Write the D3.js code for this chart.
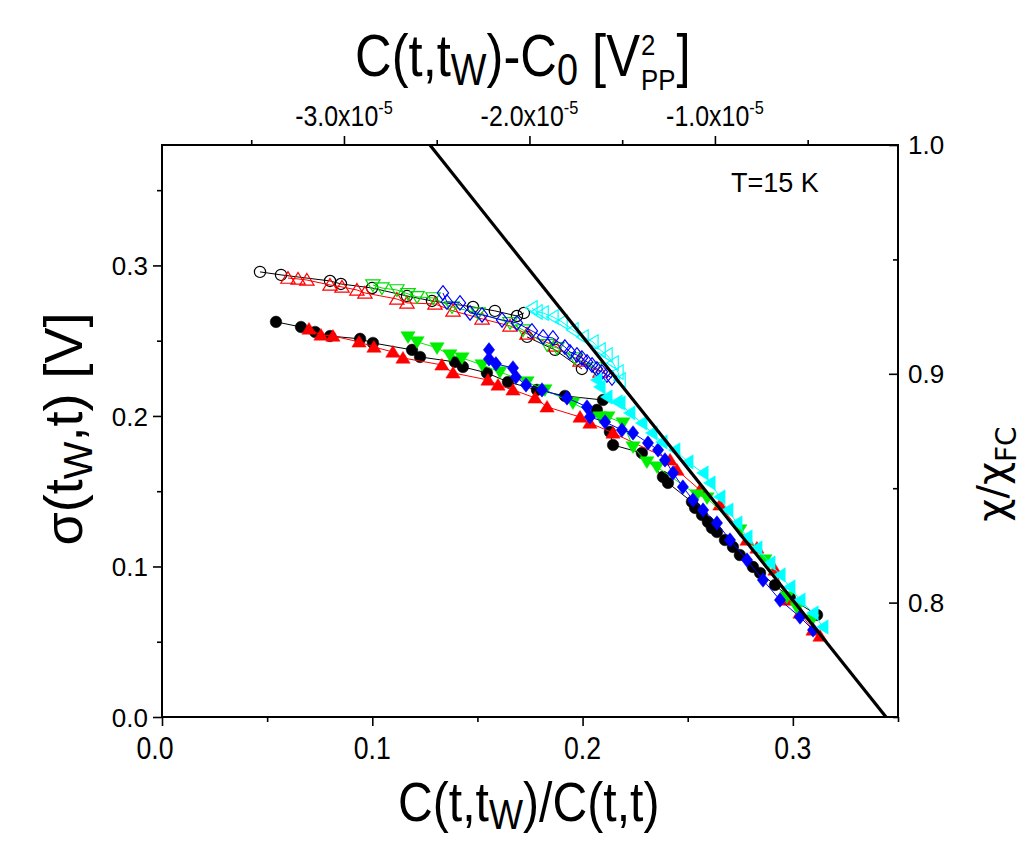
<!DOCTYPE html>
<html>
<head>
<meta charset="utf-8">
<script src="https://cdn.jsdelivr.net/npm/d3@7"></script>
<style>
  body { margin: 0; background: #fff; }
  svg text { font-family: "Liberation Sans", Arial, sans-serif; fill: #000; }
</style>
</head>
<body>
<div id="chart"></div>
<script>
// axis ticks
var xTicks = [0.0, 0.1, 0.2, 0.3];
var xMinor = [0.05, 0.15, 0.25, 0.35];
var yTicks = [0.0, 0.1, 0.2, 0.3];
var yMinor = [0.05, 0.15, 0.25, 0.35];
var topTicks = [-3.0, -2.0, -1.0];          // x 1e-5
var topMinor = [-3.5, -2.5, -1.5, -0.5];
var rightTicks = [0.8, 0.9, 1.0];
var rightMinor = [0.75, 0.85, 0.95];

// FDT line (x, y)
var fdtLine = [[0.1274, 0.38], [0.3443, 0.0]];

// upper branch (open symbols)
var blackOpen = [[0.0466,0.2957],[0.0566,0.2937],[0.0799,0.2897],[0.0851,0.2877],[0.0999,0.2850],
  [0.1165,0.2797],[0.1284,0.2764],[0.1479,0.2724],[0.1583,0.2698],[0.1688,0.2664],[0.1721,0.2684]];
var blackOpen2 = [[0.1736,0.2525],[0.1869,0.2439],[0.1997,0.2312]];
var redOpen = [[0.0599,0.2916],[0.0647,0.2910],[0.0689,0.2903],[0.0799,0.2870],[0.0856,0.2857],
  [0.0927,0.2837],[0.0965,0.2817],[0.1117,0.2777],[0.1165,0.2751],[0.1298,0.2744],[0.1384,0.2698],
  [0.1522,0.2645],[0.1655,0.2598],[0.1736,0.2545],[0.1869,0.2465],[0.1988,0.2365],[0.2083,0.2292]];
var greenOpen = [[0.1003,0.2870],[0.1046,0.2850],[0.1117,0.2837],[0.1170,0.2811],[0.1213,0.2791],
  [0.1289,0.2784],[0.1379,0.2724],[0.1503,0.2684],[0.1655,0.2618],[0.1717,0.2571],[0.1831,0.2472],
  [0.1878,0.2452],[0.1964,0.2385],[0.2059,0.2319]];
var blueOpen = [[0.1336,0.2817],[0.1355,0.2757],[0.1417,0.2751],[0.1465,0.2684],[0.1522,0.2671],
  [0.1617,0.2638],[0.1688,0.2618],[0.1759,0.2565],[0.1812,0.2525],[0.1859,0.2518],[0.1916,0.2458],
  [0.1940,0.2425],[0.1973,0.2405],[0.1997,0.2385],[0.2021,0.2359],[0.2045,0.2339],[0.2068,0.2312],
  [0.2092,0.2292],[0.2116,0.2272],[0.2140,0.2252]];
var cyanOpen = [[0.1759,0.2718],[0.1783,0.2691],[0.1812,0.2684],[0.1859,0.2658],[0.1902,0.2625],
  [0.1954,0.2571],[0.2002,0.2525],[0.2049,0.2492],[0.2083,0.2439],[0.2116,0.2405],[0.2145,0.2352],
  [0.2168,0.2292],[0.2178,0.2239]];

// lower branch (filled symbols)
var blackFull = [[0.0542,0.2625],[0.0661,0.2591],[0.0728,0.2558],[0.0799,0.2531],[0.0942,0.2512],
  [0.1003,0.2485],[0.1189,0.2439],[0.1227,0.2392],[0.1393,0.2359],[0.1431,0.2326],[0.1545,0.2286],
  [0.1645,0.2226],[0.1783,0.2173],[0.1916,0.2133],[0.2097,0.2106]];
var blackFull2 = [[0.2068,0.2040],[0.2130,0.1894],[0.2145,0.1807],[0.2282,0.1754],[0.2382,0.1595],
  [0.2406,0.1555],[0.2520,0.1429],[0.2535,0.1389],[0.2568,0.1342],[0.2596,0.1296],[0.2615,0.1256],
  [0.2639,0.1229],[0.2677,0.1176],[0.2715,0.1130],[0.2748,0.1076],[0.2810,0.0997],[0.2844,0.0957],
  [0.2915,0.0877],[0.2986,0.0791],[0.3115,0.0678]];
var redFull = [[0.0699,0.2578],[0.0756,0.2538],[0.0813,0.2531],[0.0937,0.2492],[0.1008,0.2458],
  [0.1098,0.2425],[0.1146,0.2385],[0.1331,0.2339],[0.1384,0.2286],[0.1550,0.2239],[0.1598,0.2206],
  [0.1669,0.2173],[0.1774,0.2120],[0.1831,0.2060],[0.1988,0.1993],[0.2035,0.1953],[0.2145,0.1887],
  [0.2416,0.1708],[0.2449,0.1641],[0.2558,0.1508],[0.2653,0.1409],[0.2782,0.1176],[0.2829,0.1123],
  [0.2915,0.0977],[0.2972,0.0777],[0.3034,0.0691],[0.3096,0.0578],[0.3129,0.0538]];
var greenFull = [[0.1170,0.2525],[0.1213,0.2492],[0.1308,0.2452],[0.1369,0.2405],[0.1427,0.2385],
  [0.1522,0.2339],[0.1607,0.2292],[0.1736,0.2226],[0.1821,0.2173],[0.1954,0.2086],[0.2083,0.1993],
  [0.2121,0.1993],[0.2192,0.1953],[0.2240,0.1794],[0.2306,0.1694],[0.2354,0.1661],[0.2544,0.1475],
  [0.2592,0.1455],[0.2748,0.1243],[0.2867,0.1043],[0.2972,0.0797],[0.3020,0.0724],[0.3091,0.0645]];
var blueFull = [[0.1555,0.2439],[0.1555,0.2379],[0.1588,0.2346],[0.1669,0.2319],[0.1683,0.2259],
  [0.1731,0.2206],[0.1807,0.2173],[0.1926,0.2120],[0.2021,0.2060],[0.2035,0.1993],[0.2107,0.1960],
  [0.2187,0.1907],[0.2240,0.1887],[0.2311,0.1821],[0.2359,0.1774],[0.2392,0.1708],[0.2430,0.1621],
  [0.2477,0.1528],[0.2525,0.1442],[0.2573,0.1375],[0.2639,0.1289],[0.2701,0.1176],[0.2782,0.1043],
  [0.2858,0.0910],[0.2939,0.0777],[0.3034,0.0664],[0.3096,0.0578]];
var cyanFull = [[0.2068,0.2239],[0.2083,0.2193],[0.2116,0.2126],[0.2164,0.2093],[0.2178,0.2086],
  [0.2225,0.2020],[0.2282,0.1953],[0.2330,0.1887],[0.2378,0.1827],[0.2439,0.1774],[0.2501,0.1694],
  [0.2573,0.1621],[0.2606,0.1555],[0.2653,0.1462],[0.2691,0.1375],[0.2734,0.1289],[0.2782,0.1196],
  [0.2829,0.1123],[0.2891,0.1023],[0.2939,0.0944],[0.2986,0.0864],[0.3034,0.0777],[0.3096,0.0691],
  [0.3143,0.0598]];

var W = 1023, H = 841;
var L = 162, R = 898, T = 145, B = 717;
var NARROW = 0.86;   // no narrow font installed, squeeze instead

var x = d3.scaleLinear().domain([0, 0.35]).range([L, R]);
var y = d3.scaleLinear().domain([0, 0.38]).range([B, T]);
var xTop = d3.scaleLinear().domain([-3.981, -0.013]).range([L, R]);
var yRight = d3.scaleLinear().domain([0.75, 1.0]).range([B, T]);

// symbol shapes
var shapes = {
  circle: function (r) { return d3.symbol(d3.symbolCircle, Math.PI * r * r)(); },
  up: function (r) { return "M0," + (-r) + "L" + (r * 1.1) + "," + (r * 0.8) + "L" + (-r * 1.1) + "," + (r * 0.8) + "Z"; },
  down: function (r) { return "M0," + r + "L" + (r * 1.1) + "," + (-r * 0.8) + "L" + (-r * 1.1) + "," + (-r * 0.8) + "Z"; },
  left: function (r) { return "M" + (-r) + ",0L" + (r * 0.8) + "," + (-r * 1.1) + "L" + (r * 0.8) + "," + (r * 1.1) + "Z"; },
  diamond: function (r) { return "M0," + (-r * 1.15) + "L" + (r * 0.9) + ",0L0," + (r * 1.15) + "L" + (-r * 0.9) + ",0Z"; }
};

var series = [
  { data: blackOpen, color: "#000", shape: "circle", r: 5.6, open: true },
  { data: blackOpen2, color: "#000", shape: "circle", r: 5.6, open: true },
  { data: redOpen, color: "#ff0000", shape: "up", r: 6.5, open: true },
  { data: greenOpen, color: "#00dd00", shape: "down", r: 6.5, open: true },
  { data: blueOpen, color: "#0000ff", shape: "diamond", r: 6.3, open: true },
  { data: cyanOpen, color: "#00ffff", shape: "left", r: 6.5, open: true },
  { data: blackFull, color: "#000", shape: "circle", r: 5.8, open: false },
  { data: blackFull2, color: "#000", shape: "circle", r: 5.8, open: false },
  { data: redFull, color: "#ff0000", shape: "up", r: 6.5, open: false },
  { data: greenFull, color: "#00ee00", shape: "down", r: 6.5, open: false },
  { data: blueFull, color: "#0000ff", shape: "diamond", r: 6.3, open: false },
  { data: cyanFull, color: "#00ffff", shape: "left", r: 6.5, open: false }
];

var svg = d3.select("#chart").append("svg").attr("width", W).attr("height", H);
svg.append("rect").attr("width", W).attr("height", H).attr("fill", "#fff");

svg.append("clipPath").attr("id", "plotClip").append("rect")
  .attr("x", L).attr("y", T).attr("width", R - L).attr("height", B - T);

// squeezed text at (px, py)
function narrowText(px, py, size, anchor) {
  return svg.append("text")
    .attr("transform", "translate(" + px + "," + py + ") scale(" + NARROW + ",1)")
    .attr("text-anchor", anchor || "start")
    .style("font-size", size + "px");
}

// data
var line = d3.line().x(function (d) { return x(d[0]); }).y(function (d) { return y(d[1]); });
var gData = svg.append("g").attr("clip-path", "url(#plotClip)");

series.forEach(function (s) {
  var g = gData.append("g");
  g.append("path").attr("d", line(s.data))
    .attr("fill", "none").attr("stroke", s.color).attr("stroke-width", 1);
  g.selectAll("path.pt").data(s.data).enter().append("path").attr("class", "pt")
    .attr("d", shapes[s.shape](s.r))
    .attr("transform", function (d) { return "translate(" + x(d[0]) + "," + y(d[1]) + ")"; })
    .attr("fill", s.open ? "none" : s.color)
    .attr("stroke", s.color)
    .attr("stroke-width", s.open ? 1.2 : 0.5);
});

gData.append("path").attr("d", line(fdtLine))
  .attr("fill", "none").attr("stroke", "#000").attr("stroke-width", 3.2);

// frame
svg.append("rect").attr("x", L).attr("y", T).attr("width", R - L).attr("height", B - T)
  .attr("fill", "none").attr("stroke", "#000").attr("stroke-width", 2);

// axes
function styleAxis(g) {
  g.select(".domain").remove();
  g.selectAll(".tick line").attr("stroke", "#000").attr("stroke-width", 1.6);
}
function noLabels(g) { g.selectAll("text").remove(); }

svg.append("g").attr("transform", "translate(0," + B + ")")
  .call(d3.axisBottom(x).tickValues(xTicks).tickSize(9).tickFormat(""))
  .call(styleAxis);
svg.append("g").attr("transform", "translate(0," + B + ")")
  .call(d3.axisBottom(x).tickValues(xMinor).tickSize(5)).call(styleAxis).call(noLabels);
xTicks.forEach(function (v) {
  narrowText(x(v) - (v === 0 ? 7 : 0), B + 42, 31, "middle").text(v.toFixed(1));
});

svg.append("g").attr("transform", "translate(" + L + ",0)")
  .call(d3.axisLeft(y).tickValues(yTicks).tickSize(9).tickPadding(5).tickFormat(d3.format(".1f")))
  .call(styleAxis)
  .selectAll("text").style("font-size", "26px").attr("dy", "0.36em");
svg.append("g").attr("transform", "translate(" + L + ",0)")
  .call(d3.axisLeft(y).tickValues(yMinor).tickSize(5)).call(styleAxis).call(noLabels);

svg.append("g").attr("transform", "translate(0," + T + ")")
  .call(d3.axisTop(xTop).tickValues(topTicks).tickSize(9).tickFormat(""))
  .call(styleAxis);
svg.append("g").attr("transform", "translate(0," + T + ")")
  .call(d3.axisTop(xTop).tickValues(topMinor).tickSize(5)).call(styleAxis).call(noLabels);

topTicks.forEach(function (v) {
  var t = narrowText(xTop(v), T - 19, 29, "middle");
  t.append("tspan").text(v.toFixed(1) + "x10");
  t.append("tspan").attr("dy", -12).style("font-size", "19px").text("-5");
});

svg.append("g").attr("transform", "translate(" + R + ",0)")
  .call(d3.axisLeft(yRight).tickValues(rightTicks).tickSize(9).tickFormat(""))
  .call(styleAxis);
svg.append("g").attr("transform", "translate(" + R + ",0)")
  .call(d3.axisLeft(yRight).tickValues(rightMinor).tickSize(5)).call(styleAxis).call(noLabels);
rightTicks.forEach(function (v) {
  svg.append("text").attr("x", R + 10).attr("y", yRight(v) + 9)
    .style("font-size", "26px").text(v.toFixed(1));
});

// annotation
svg.append("text").attr("x", 731).attr("y", 192).style("font-size", "27px").text("T=15 K");

// titles (superscript 2 and subscript PP are stacked as separate texts)
var tt = narrowText(355, 76, 59);
tt.append("tspan").text("C(t,t");
tt.append("tspan").attr("dy", 9).style("font-size", "44px").text("W");
tt.append("tspan").attr("dy", -9).text(")-C");
tt.append("tspan").attr("dy", 9).style("font-size", "44px").text("0");
tt.append("tspan").attr("dy", -9).text(" [V");
var ttEnd = 355 + tt.node().getComputedTextLength() * NARROW;
narrowText(ttEnd + 1, 55, 30).text("2");
var pp = narrowText(ttEnd + 1, 90, 30).text("PP");
var ppEnd = ttEnd + 1 + pp.node().getComputedTextLength() * NARROW;
narrowText(ppEnd + 1, 76, 59).text("]");

var bt = narrowText(398, 821, 56);
bt.append("tspan").text("C(t,t");
bt.append("tspan").attr("dy", 8).style("font-size", "42px").text("W");
bt.append("tspan").attr("dy", -8).text(")/C(t,t)");

var lt = svg.append("text").attr("transform", "translate(82,429) rotate(-90)")
  .attr("text-anchor", "middle").style("font-size", "54px");
lt.append("tspan").text("σ(t");
lt.append("tspan").attr("dy", 10).style("font-size", "40px").text("W");
lt.append("tspan").attr("dy", -10).text(",t) [V]");

var rt = svg.append("text").attr("transform", "translate(1006,474) rotate(-90)")
  .attr("text-anchor", "middle").style("font-size", "40px").style("font-family", "'DejaVu Sans', sans-serif");
rt.append("tspan").text("χ/χ");
rt.append("tspan").attr("dy", 10).style("font-size", "28px").text("FC");
</script>
</body>
</html>
